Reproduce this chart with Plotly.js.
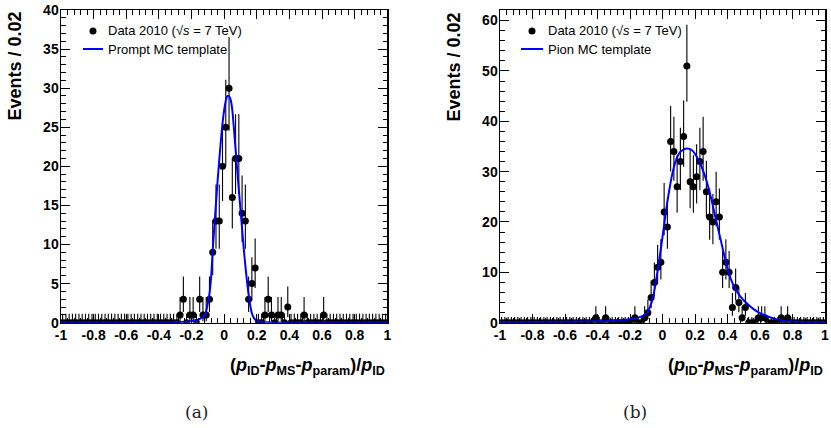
<!DOCTYPE html>
<html><head><meta charset="utf-8">
<script src="https://cdn.plot.ly/plotly-3.0.1.min.js"></script>
<style>html,body{margin:0;padding:0;background:#fff;} #chart{width:831px;height:428px;}</style>
</head><body><div id="chart"></div>
<script>
// Histogram bin centres (bin width 0.02)
const binCenters = [
 -0.99,-0.97,-0.95,-0.93,-0.91,-0.89,-0.87,-0.85,-0.83,-0.81,
 -0.79,-0.77,-0.75,-0.73,-0.71,-0.69,-0.67,-0.65,-0.63,-0.61,
 -0.59,-0.57,-0.55,-0.53,-0.51,-0.49,-0.47,-0.45,-0.43,-0.41,
 -0.39,-0.37,-0.35,-0.33,-0.31,-0.29,-0.27,-0.25,-0.23,-0.21,
 -0.19,-0.17,-0.15,-0.13,-0.11,-0.09,-0.07,-0.05,-0.03,-0.01,
  0.01, 0.03, 0.05, 0.07, 0.09, 0.11, 0.13, 0.15, 0.17, 0.19,
  0.21, 0.23, 0.25, 0.27, 0.29, 0.31, 0.33, 0.35, 0.37, 0.39,
  0.41, 0.43, 0.45, 0.47, 0.49, 0.51, 0.53, 0.55, 0.57, 0.59,
  0.61, 0.63, 0.65, 0.67, 0.69, 0.71, 0.73, 0.75, 0.77, 0.79,
  0.81, 0.83, 0.85, 0.87, 0.89, 0.91, 0.93, 0.95, 0.97, 0.99];

// Panel (a): data counts
const countsA = [
  0,0,0,0,0,0,0,0,0,0,
  0,0,0,0,0,0,0,0,0,0,
  0,0,0,0,0,0,0,0,0,0,
  0,0,0,0,0,0,1,3,0,1,
  1,0,3,1,1,3,9,13,13,20,
  25,30,16,21,21,14,13,3,5,7,
  0,0,1,3,1,0,1,1,0,2,
  0,0,0,0,1,0,0,0,0,0,
  1,0,0,0,0,0,0,0,0,0,
  0,0,0,0,0,0,0,0,0,0];

// Panel (b): data counts
const countsB = [
  0,0,0,0,0,0,0,0,0,0,
  0,0,0,0,0,0,0,0,0,0,
  0,0,0,0,0,0,0,0,0,1,
  0,0,1,0,0,0,0,0,0,0,
  0,1,0,0,1,2,5,8,11,12,
  22,19,36,34,27,32,37,51,28,27,
  29,32,34,26,21,20,24,21,10,12,
  10,3,7,4,1,3,0,0,0,1,
  1,1,0,0,0,0,1,0,1,0,
  0,0,0,0,0,0,0,0,0,0];

// Prompt MC template (a)
const templateAX = [-1.0,-0.6,-0.4,-0.3,-0.24,-0.2,-0.16,-0.14,-0.12,-0.11,-0.10,-0.09,-0.08,-0.07,-0.06,-0.05,-0.04,-0.03,-0.02,-0.01,0.0,0.01,0.02,0.03,0.04,0.05,0.06,0.07,0.08,0.09,0.10,0.11,0.12,0.13,0.14,0.15,0.16,0.17,0.18,0.19,0.20,0.22,0.26,0.3,0.4,0.6,1.0];
const templateAY = [0.03,0.03,0.05,0.08,0.13,0.22,0.38,0.6,0.9,1.5,2.5,3.7,5.8,9.3,12.3,15.3,18.2,20.8,23.3,25.5,27.2,28.4,29.0,29.0,28.5,27.2,24.8,22.2,19.6,17.0,14.5,12.0,9.5,7.3,5.3,3.6,2.2,1.2,0.7,0.4,0.25,0.12,0.06,0.04,0.03,0.03,0.03];

// Pion MC template (b)
const templateBX = [-1.0,-0.6,-0.4,-0.3,-0.2,-0.15,-0.1,-0.08,-0.06,-0.04,-0.02,0.0,0.02,0.04,0.06,0.08,0.10,0.12,0.15,0.18,0.21,0.24,0.27,0.30,0.33,0.36,0.39,0.42,0.45,0.48,0.52,0.56,0.60,0.65,0.70,0.75,0.8,0.9,1.0];
const templateBY = [0.15,0.2,0.3,0.4,0.7,1.0,1.8,2.9,4.8,8.3,12.5,17.0,21.8,26.0,29.5,32.0,33.5,34.2,34.6,34.3,33.0,31.0,28.3,24.6,20.3,16.2,12.0,8.7,6.6,5.2,3.8,2.7,1.9,1.2,0.7,0.4,0.25,0.15,0.1];

const xTickVals = [-1,-0.8,-0.6,-0.4,-0.2,0,0.2,0.4,0.6,0.8,1];
const xTickText = ['-1','-0.8','-0.6','-0.4','-0.2','0','0.2','0.4','0.6','0.8','1'];
const yTickValsA = [0,5,10,15,20,25,30,35,40];
const yTickValsB = [0,10,20,30,40,50,60];

const dataLabel = 'Data 2010 (\u221A<i>s</i> = 7 TeV)';
const templateLabels = ['Prompt MC template', 'Pion MC template'];
const xTitle = '(<i>p</i><sub>ID</sub>-<i>p</i><sub>MS</sub>-<i>p</i><sub>param</sub>)/<i>p</i><sub>ID</sub>';
const yTitle = 'Events / 0.02';
const captions = ['(a)', '(b)'];
const zeroBinUpErr = 1.15;

// Poisson (Garwood-like) asymmetric errors derived from counts
function poissonErr(n) {
  if (n === 0) return [zeroBinUpErr, 0];
  const a = n + 1;
  const up = a * Math.pow(1 - 1/(9*a) + 1/(3*Math.sqrt(a)), 3) - n;
  const lo = n - n * Math.pow(1 - 1/(9*n) - 1/(3*Math.sqrt(n)), 3);
  return [up, lo];
}

const FONT = '"Liberation Sans", Arial, Helvetica, sans-serif';
const BLUE = '#0000ff';

function dataTrace(counts, xa, ya) {
  const errs = counts.map(poissonErr);
  return {
    type: 'scatter', mode: 'markers', x: binCenters, y: counts,
    xaxis: xa, yaxis: ya, name: 'Data 2010', showlegend: false,
    marker: {color: '#000', size: 7, symbol: 'circle'},
    error_y: {type: 'data', symmetric: false, array: errs.map(e => e[0]), arrayminus: errs.map(e => e[1]),
              color: '#000', thickness: 1.1, width: 0},
    cliponaxis: true
  };
}
function templateTrace(xs, ys, xa, ya, name) {
  return {
    type: 'scatter', mode: 'lines', x: xs, y: ys, xaxis: xa, yaxis: ya, name: name, showlegend: false,
    line: {color: BLUE, width: 2, shape: 'spline', smoothing: 0.8}, cliponaxis: true
  };
}

const traces = [
  dataTrace(countsA, 'x', 'y'),
  templateTrace(templateAX, templateAY, 'x', 'y', templateLabels[0]),
  dataTrace(countsB, 'x2', 'y2'),
  templateTrace(templateBX, templateBY, 'x2', 'y2', templateLabels[1])
];

const W = 831, H = 428;
const plotTop = 10, plotBottom = 322.7;
const yDomain = [(H - plotBottom)/H, (H - plotTop)/H];
const px = v => v / W;
const py = v => (H - v) / H;

function xAxis(left, right, anchor) {
  return {
    domain: [px(left), px(right)], range: [-1, 1], anchor: anchor,
    tickmode: 'array', tickvals: xTickVals, ticktext: xTickText,
    ticks: 'inside', ticklen: 9, tickwidth: 1, tickcolor: '#000', ticklabelstandoff: -1,
    showline: true, linecolor: '#000', linewidth: 1.5, mirror: 'allticks',
    showgrid: false, zeroline: false, fixedrange: true,
    tickfont: {family: FONT, size: 14, color: '#000', weight: 'bold'},
    minor: {tickmode: 'linear', tick0: -1, dtick: 0.04, ticks: 'inside', ticklen: 4.5, tickwidth: 1, tickcolor: '#000', showgrid: false}
  };
}
function yAxis(maxY, vals, minorStep, anchor) {
  return {
    domain: yDomain, range: [0, maxY], anchor: anchor,
    tickmode: 'array', tickvals: vals, ticktext: vals.map(String),
    ticks: 'inside', ticklen: 9, tickwidth: 1, tickcolor: '#000', ticklabelstandoff: -2,
    showline: true, linecolor: '#000', linewidth: 1.5, mirror: 'allticks',
    showgrid: false, zeroline: false, fixedrange: true,
    tickfont: {family: FONT, size: 14, color: '#000', weight: 'bold'},
    minor: {tickmode: 'linear', tick0: 0, dtick: minorStep, ticks: 'inside', ticklen: 4.5, tickwidth: 1, tickcolor: '#000', showgrid: false}
  };
}

const panels = [
  {left: 61, right: 387.3, ytitleX: 15, capX: 196.5, legMarker: 93, legLine: [83, 103], legText: 107},
  {left: 500, right: 825, ytitleX: 454, capX: 635, legMarker: 532, legLine: [521, 543], legText: 547}
];
const legRow1 = 31, legRow2 = 49;

const annotations = [];
const shapes = [];
panels.forEach((p, i) => {
  annotations.push({xref: 'paper', yref: 'paper', x: px(p.ytitleX), y: py(plotTop), xanchor: 'center', yanchor: 'top',
    text: yTitle, textangle: -90, showarrow: false, font: {family: FONT, size: 18, color: '#000', weight: 'bold'}});
  annotations.push({xref: 'paper', yref: 'paper', x: px(p.right), y: py(366), xanchor: 'right', yanchor: 'middle',
    text: xTitle, showarrow: false, font: {family: FONT, size: 18, color: '#000', weight: 'bold'}});
  annotations.push({xref: 'paper', yref: 'paper', x: px(p.capX), y: py(412), xanchor: 'center', yanchor: 'middle',
    text: captions[i], showarrow: false, font: {family: 'DejaVu Serif, Liberation Serif, serif', size: 17, color: '#222'}});
  // legend
  annotations.push({xref: 'paper', yref: 'paper', x: px(p.legText), y: py(legRow1), xanchor: 'left', yanchor: 'middle',
    text: dataLabel, showarrow: false, borderpad: 0, font: {family: FONT, size: 13, color: '#000'}});
  annotations.push({xref: 'paper', yref: 'paper', x: px(p.legText), y: py(legRow2), xanchor: 'left', yanchor: 'middle',
    text: templateLabels[i], showarrow: false, borderpad: 0, font: {family: FONT, size: 13, color: '#000'}});
  shapes.push({type: 'circle', xref: 'paper', yref: 'paper', x0: px(p.legMarker - 3.5), x1: px(p.legMarker + 3.5),
    y0: py(legRow1 + 3.5), y1: py(legRow1 - 3.5), fillcolor: '#000', line: {width: 0}});
  shapes.push({type: 'line', xref: 'paper', yref: 'paper', x0: px(p.legLine[0]), x1: px(p.legLine[1]),
    y0: py(legRow2), y1: py(legRow2), line: {color: BLUE, width: 2}});
});

const layout = {
  width: W, height: H, margin: {l: 0, r: 0, t: 0, b: 0},
  paper_bgcolor: '#fff', plot_bgcolor: '#fff', showlegend: false,
  xaxis: xAxis(panels[0].left, panels[0].right, 'y'),
  yaxis: yAxis(40, yTickValsA, 1, 'x'),
  xaxis2: xAxis(panels[1].left, panels[1].right, 'y2'),
  yaxis2: yAxis(62.1, yTickValsB, 2, 'x2'),
  annotations: annotations,
  shapes: shapes
};

Plotly.newPlot('chart', traces, layout, {staticPlot: true, displayModeBar: false});
</script></body></html>
